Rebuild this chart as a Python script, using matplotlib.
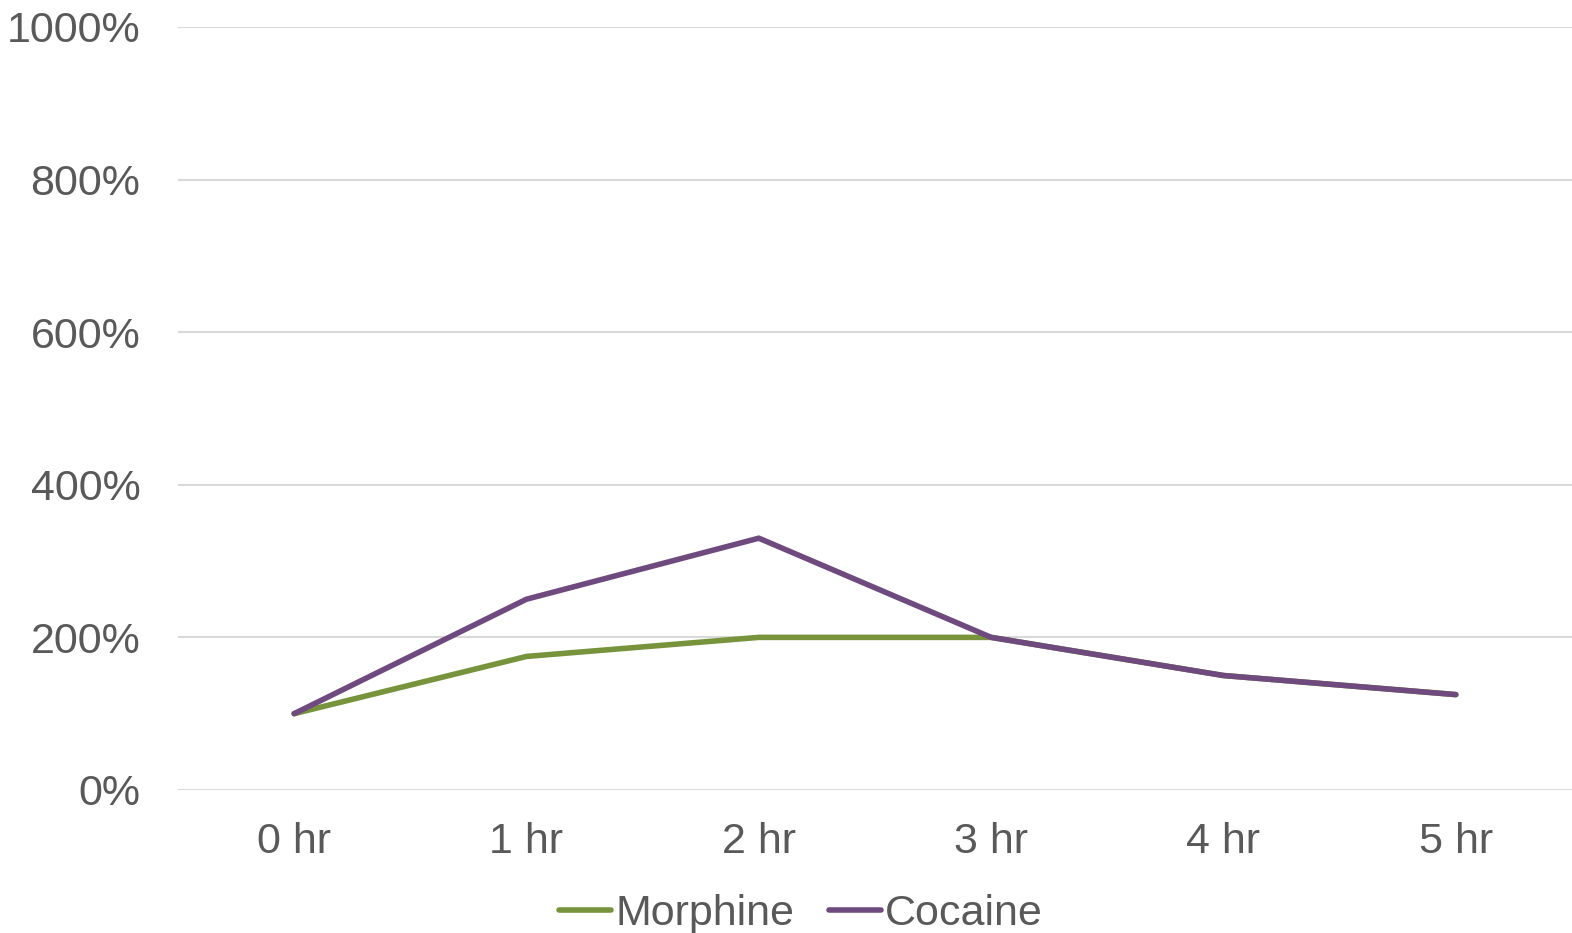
import matplotlib.pyplot as plt
import numpy as np
from matplotlib.ticker import FuncFormatter

hours = ['0 hr', '1 hr', '2 hr', '3 hr', '4 hr', '5 hr']
morphine = [100, 175, 200, 200, 150, 125]
cocaine = [100, 250, 330, 200, 150, 125]

plt.rcParams['font.family'] = ['Liberation Sans', 'DejaVu Sans']
txt = '#595959'

fig = plt.figure(figsize=(15.72, 9.33), dpi=100)
ax = fig.add_axes([0.1132, 0.1533, 0.8868, 0.8178])

x = np.arange(len(hours))
ax.plot(x, morphine, color='#77933C', lw=4, solid_capstyle='round', solid_joinstyle='round', label='Morphine')
ax.plot(x, cocaine, color='#6F4A7E', lw=4, solid_capstyle='round', solid_joinstyle='round', label='Cocaine')

ax.set_xlim(-0.5, len(hours) - 0.5)
ax.set_ylim(0, 1000)
ax.set_yticks(np.arange(0, 1001, 200))
ax.yaxis.set_major_formatter(FuncFormatter(lambda v, p: f'{v:.0f}%'))
ax.set_xticks(x)
ax.set_xticklabels(hours)
ax.grid(axis='y', color='#D9D9D9', lw=1.5)
ax.set_axisbelow(True)
for s in ax.spines.values():
    s.set_visible(False)
ax.tick_params(length=0, labelsize=31, labelcolor=txt)
ax.tick_params(axis='y', pad=27)
ax.tick_params(axis='x', pad=23)

ax.legend(loc='center', bbox_to_anchor=(0.447, -0.163), ncol=2, frameon=False,
          fontsize=31, labelcolor=txt, handlelength=1.2, handletextpad=0.1, columnspacing=0.8)

fig.savefig('out.png')
